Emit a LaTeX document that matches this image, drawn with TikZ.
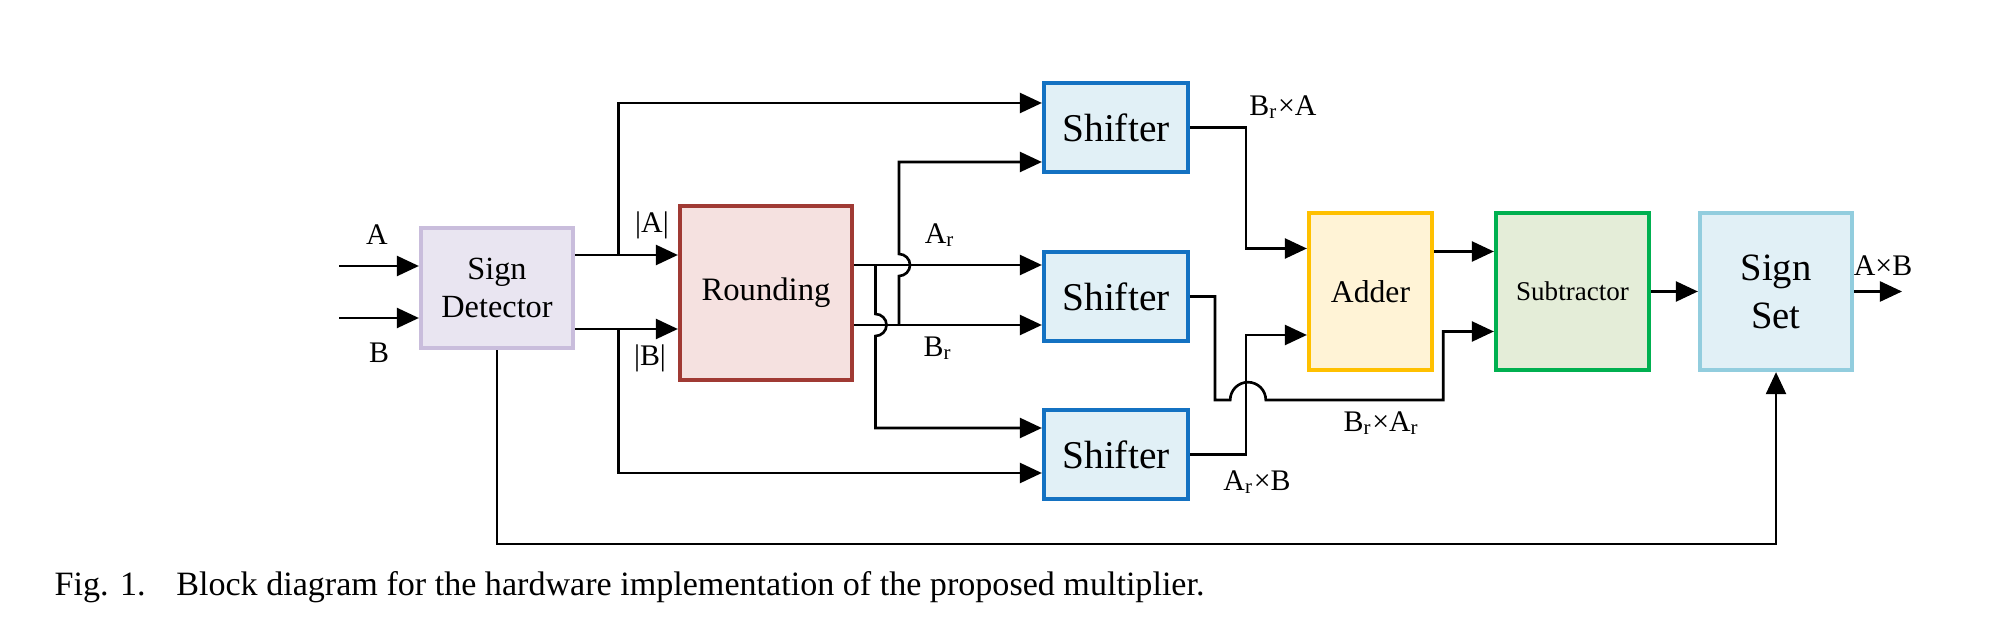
\documentclass[tikz,border=0pt]{standalone}
\usepackage{fontspec}
\setmainfont{Liberation Serif}
\usetikzlibrary{arrows.meta,calc,positioning}
\definecolor{sdline}{RGB}{201,189,220}
\definecolor{sdfill}{RGB}{233,229,241}
\definecolor{rdline}{RGB}{160,58,52}
\definecolor{rdfill}{RGB}{245,225,224}
\definecolor{shline}{RGB}{20,114,194}
\definecolor{shfill}{RGB}{225,240,246}
\definecolor{adline}{RGB}{255,192,0}
\definecolor{adfill}{RGB}{255,243,214}
\definecolor{sbline}{RGB}{0,176,80}
\definecolor{sbfill}{RGB}{228,237,216}
\definecolor{ssline}{RGB}{146,205,222}
\definecolor{ssfill}{RGB}{225,240,246}
\tikzset{
    blk/.style={draw, line width=1.2pt, align=center, inner sep=0pt},
    wire/.style={line width=0.75pt},
    wireA/.style={wire, -{Triangle[length=6.3pt,width=5.7pt]}},
    lbl/.style={font=\fontsize{8.5}{10}\selectfont, inner sep=0pt}
}

\begin{document}
\begin{tikzpicture}
    \useasboundingbox (0,0) rectangle (20.15,6.35);
    % Blocks
    \node[blk, draw=sdline, fill=sdfill, minimum width=1.52cm, minimum height=1.20cm,
        font=\fontsize{9.2}{11}\selectfont] (SD) at (4.97,3.47) {Sign\\Detector};
    \node[blk, draw=rdline, fill=rdfill, minimum width=1.72cm, minimum height=1.74cm,
        font=\fontsize{9.3}{11}\selectfont] (RD) at (7.66,3.42) {Rounding};
    \node[blk, draw=shline, fill=shfill, minimum width=1.44cm, minimum height=0.89cm,
        font=\fontsize{11.2}{13}\selectfont] (SH1) at (11.16,5.075) {Shifter};
    \node[blk, draw=shline, fill=shfill, minimum width=1.44cm, minimum height=0.89cm,
        font=\fontsize{11.2}{13}\selectfont] (SH2) at (11.16,3.385) {Shifter};
    \node[blk, draw=shline, fill=shfill, minimum width=1.44cm, minimum height=0.89cm,
        font=\fontsize{11.2}{13}\selectfont] (SH3) at (11.16,1.805) {Shifter};
    \node[blk, draw=adline, fill=adfill, minimum width=1.23cm, minimum height=1.57cm,
        font=\fontsize{9}{11}\selectfont] (AD) at (13.705,3.435) {Adder};
    \node[blk, draw=sbline, fill=sbfill, minimum width=1.53cm, minimum height=1.57cm,
        font=\fontsize{7.7}{9}\selectfont] (SB) at (15.725,3.435) {Subtractor};
    \node[blk, draw=ssline, fill=ssfill, minimum width=1.52cm, minimum height=1.57cm,
        font=\fontsize{11}{13.6}\selectfont] (SS) at (17.76,3.435) {Sign\\Set};
    % Inputs
    \coordinate (inA) at (3.39,3.69);
    \coordinate (inB) at (3.39,3.17);
    \draw[wireA] (inA) -- (inA -| SD.west);
    \draw[wireA] (inB) -- (inB -| SD.west);
    \node[lbl] (lA) at (3.77,4.00) {A};
    \node[lbl] (lB) at (3.79,2.82) {B};
    % |A| and |B|
    \coordinate (jA) at (6.185,3.80);
    \coordinate (jB) at (6.185,3.06);
    \draw[wireA] (jA -| SD.east) -- (jA -| RD.west);
    \draw[wireA] (jB -| SD.east) -- (jB -| RD.west);
    \draw[wireA] (jA) |- ($(SH1.west)+(0,0.245)$);
    \draw[wireA] (jB) |- ($(SH3.west)+(0,-0.185)$);
    \node[lbl] (lAbs) at (6.52,4.10) {|A|};
    \node[lbl] (lBbs) at (6.50,2.77) {|B|};
    % Ar and Br
    \coordinate (jAr) at (8.755,3.70);
    \coordinate (jBr) at (8.99,3.10);
    \draw[wireA] (jAr -| RD.east) -- (jAr -| SH2.west);
    \draw[wireA] (jBr -| RD.east) -- (jBr -| SH2.west);
    \draw[wireA] (jAr) -- (8.755,3.21) arc[start angle=90, end angle=-90, radius=0.11]
        |- ($(SH3.west)+(0,0.265)$);
    \draw[wireA] (jBr) -- (8.99,3.59) arc[start angle=-90, end angle=90, radius=0.11]
        |- ($(SH1.west)+(0,-0.345)$);
    \node[lbl] (lAr) at (9.40,4.00) {A\textsubscript{r}};
    \node[lbl] (lBr) at (9.38,2.87) {B\textsubscript{r}};
    % Shifter outputs
    \draw[wireA] (SH1.east) -| ($(AD.west)+(-0.61,0.43)$) -- ($(AD.west)+(0,0.43)$);
    \draw[wireA] (SH3.east) -| ($(AD.west)+(-0.61,-0.435)$) -- ($(AD.west)+(0,-0.435)$);
    \draw[wireA] (SH2.east) -| (12.15,2.35) -- (12.302,2.35)
        arc[start angle=180, end angle=0, radius=0.178]
        -| ($(SB.west)+(-0.506,-0.40)$) -- ($(SB.west)+(0,-0.40)$);
    \node[lbl] (lBrA) at (12.83,5.28) {B\textsubscript{r}×A};
    \node[lbl] (lArB) at (12.57,1.53) {A\textsubscript{r}×B};
    \node[lbl] (lBrAr) at (13.815,2.12) {B\textsubscript{r}×A\textsubscript{r}};
    % Adder, Subtractor, Sign Set
    \draw[wireA] ($(AD.east)+(0,0.40)$) -- ($(SB.west)+(0,0.40)$);
    \draw[wireA] (SB.east) -- (SS.west);
    \coordinate (out) at (19.02,3.435);
    \draw[wireA] (SS.east) -- (out);
    \node[lbl] (lAxB) at (18.83,3.69) {A×B};
    % Sign path
    \coordinate (bot) at (4.97,0.91);
    \draw[wireA] (SD.south) -- (bot) -| (SS.south);
    % Caption
    \node[anchor=west, inner sep=0pt, font=\fontsize{9.7}{11}\selectfont] (cap) at (0.54,0.48)
        {Fig. 1.\hspace{0.9em}Block diagram for the hardware implementation of the proposed multiplier.};
\end{tikzpicture}
\end{document}
